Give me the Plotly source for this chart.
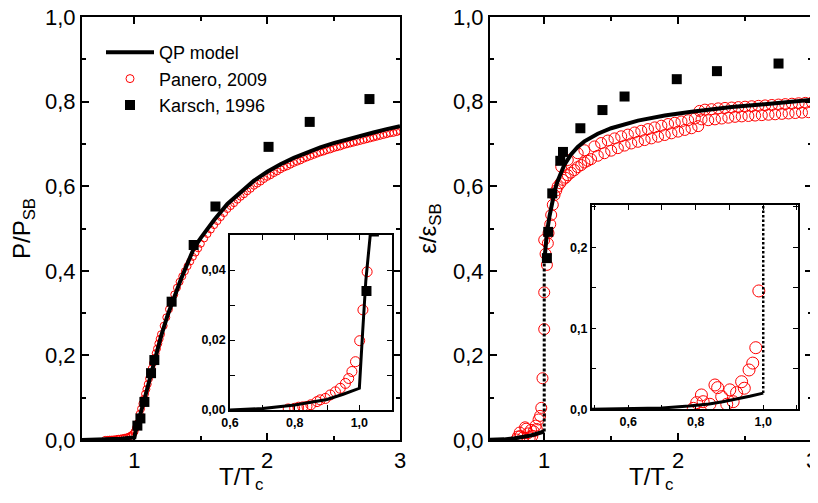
import plotly.graph_objects as go

# ---------------- data ----------------
# Left panel: pressure P/P_SB
qp_p_x = [0.6, 0.7, 0.8, 0.9, 0.95, 1.0, 1.01, 1.02, 1.04, 1.07, 1.1, 1.125, 1.15, 1.2, 1.25, 1.3,
          1.35, 1.4, 1.45, 1.5, 1.6, 1.7, 1.8, 1.9, 2.0, 2.1, 2.2, 2.3, 2.4, 2.5, 2.6, 2.7, 2.8, 2.9, 3.0]
qp_p_y = [0.0, 0.0004, 0.0014, 0.003, 0.0045, 0.0062, 0.022, 0.037, 0.056, 0.09, 0.125, 0.158, 0.19, 0.245,
          0.295, 0.34, 0.38, 0.418, 0.455, 0.478, 0.52, 0.558, 0.587, 0.613, 0.634, 0.652, 0.667, 0.68,
          0.692, 0.702, 0.711, 0.719, 0.727, 0.735, 0.742]

pan_p_x = [0.78, 0.80, 0.812, 0.825, 0.838, 0.85, 0.869, 0.879, 0.895, 0.91, 0.926, 0.941, 0.957, 0.967,
           0.977, 0.988, 1.001, 1.011, 1.024,
           1.04, 1.05, 1.06, 1.07, 1.08, 1.09, 1.10, 1.11, 1.12, 1.13, 1.14, 1.15, 1.16, 1.17, 1.18,
           1.19, 1.20, 1.22, 1.24, 1.26, 1.28, 1.30, 1.32, 1.34, 1.36, 1.38, 1.40, 1.42, 1.44, 1.46,
           1.48, 1.50, 1.525, 1.55, 1.575, 1.60, 1.625, 1.65, 1.675, 1.70, 1.725, 1.75, 1.775, 1.80,
           1.825, 1.85, 1.875, 1.90, 1.925, 1.95, 1.975, 2.00, 2.025, 2.05, 2.075, 2.10, 2.125, 2.15,
           2.175, 2.20, 2.225, 2.25, 2.275, 2.30, 2.325, 2.35, 2.375, 2.40, 2.425, 2.45, 2.475, 2.50,
           2.525, 2.55, 2.575, 2.60, 2.625, 2.65, 2.675, 2.70, 2.725, 2.75, 2.775, 2.80, 2.825, 2.85,
           2.875, 2.90, 2.925, 2.95, 2.975, 3.00]
pan_p_y = [0.0003, 0.0005, 0.0008, 0.0009, 0.001, 0.0015, 0.0024, 0.0029, 0.0033, 0.0043, 0.0052, 0.0062,
           0.0076, 0.009, 0.011, 0.0138, 0.0198, 0.0286, 0.0395,
           0.062, 0.074, 0.086, 0.097, 0.109, 0.12, 0.132, 0.145, 0.157, 0.169, 0.182, 0.194, 0.205,
           0.216, 0.228, 0.239, 0.25, 0.27, 0.29, 0.309, 0.327, 0.344, 0.36, 0.374, 0.387, 0.399, 0.411,
           0.422, 0.433, 0.443, 0.453, 0.464, 0.4765, 0.487, 0.4975, 0.508, 0.5175, 0.527, 0.5365, 0.546,
           0.553, 0.560, 0.568, 0.575, 0.581, 0.588, 0.594, 0.601, 0.606, 0.611, 0.617, 0.622, 0.626,
           0.631, 0.635, 0.640, 0.644, 0.647, 0.651, 0.655, 0.658, 0.661, 0.665, 0.668, 0.671, 0.674,
           0.677, 0.680, 0.682, 0.685, 0.687, 0.690, 0.692, 0.694, 0.697, 0.699, 0.701, 0.703, 0.705,
           0.707, 0.709, 0.711, 0.713, 0.715, 0.717, 0.719, 0.721, 0.723, 0.725, 0.726, 0.728, 0.730]

kar_p_x = [1.022, 1.045, 1.075, 1.125, 1.15, 1.28, 1.446, 1.61, 2.01, 2.32, 2.77]
kar_p_y = [0.034, 0.051, 0.09, 0.158, 0.189, 0.327, 0.461, 0.552, 0.693, 0.752, 0.806]

# Right panel: energy density eps/eps_SB
qp_e_below_x = [0.49, 0.6, 0.7, 0.78, 0.84, 0.88, 0.92, 0.96, 1.0]
qp_e_below_y = [0.0, 0.0005, 0.0015, 0.004, 0.0065, 0.0093, 0.0125, 0.016, 0.020]
qp_e_above_x = [1.0, 1.01, 1.02, 1.04, 1.06, 1.08, 1.1, 1.125, 1.15, 1.2, 1.25, 1.3, 1.4, 1.5, 1.7,
                1.9, 2.1, 2.4, 2.7, 3.0]
qp_e_above_y = [0.42, 0.455, 0.49, 0.53, 0.565, 0.592, 0.612, 0.632, 0.65, 0.675, 0.693, 0.706, 0.724,
                0.737, 0.755, 0.767, 0.776, 0.787, 0.796, 0.804]

pan_e_x = [0.793, 0.803, 0.817, 0.822, 0.842, 0.857, 0.865, 0.877, 0.892, 0.901, 0.911, 0.921, 0.936,
           0.944, 0.958, 0.969, 0.978, 0.987,
           1.0, 1.0, 1.0, 1.01, 1.02, 1.027, 1.032, 1.045, 1.052, 1.064, 1.077, 1.09, 1.1, 1.12, 1.127,
           1.139, 1.16, 1.176, 1.176, 1.2, 1.226, 1.25, 1.25, 1.276, 1.3, 1.3, 1.325,
           1.35, 1.375, 1.40, 1.425, 1.45, 1.475, 1.50, 1.525, 1.55, 1.575, 1.60, 1.625, 1.65, 1.675,
           1.70, 1.725, 1.75, 1.775, 1.80, 1.825, 1.85, 1.875, 1.90, 1.925, 1.95, 1.975, 2.00, 2.025,
           2.05, 2.075, 2.10, 2.125, 2.15,
           2.16, 2.175, 2.20, 2.225, 2.25, 2.275, 2.30, 2.325, 2.35, 2.375, 2.40, 2.425, 2.45, 2.475,
           2.50, 2.525, 2.55, 2.575, 2.60, 2.625, 2.65, 2.675, 2.70, 2.725, 2.75, 2.775, 2.80, 2.825,
           2.85, 2.875, 2.90, 2.925, 2.95, 2.975, 3.00]
pan_e_y = [0.0012, 0.0082, 0.0177, 0.0094, 0.0062, 0.030, 0.0267, 0.0156, 0.0062, 0.024, 0.0094, 0.0205,
           0.034, 0.026, 0.0485, 0.057, 0.076, 0.146,
           0.262, 0.349, 0.473, 0.44, 0.414, 0.465, 0.489, 0.51, 0.532, 0.556, 0.579, 0.59, 0.599, 0.607,
           0.646, 0.615, 0.62, 0.626, 0.662, 0.632, 0.638, 0.645, 0.678, 0.65, 0.656, 0.685, 0.66,
           0.664, 0.694, 0.672, 0.702, 0.678, 0.708, 0.684, 0.713, 0.690, 0.718, 0.696, 0.722, 0.701,
           0.727, 0.705, 0.731, 0.709, 0.735, 0.713, 0.739, 0.717, 0.743, 0.721, 0.747, 0.725, 0.750,
           0.729, 0.753, 0.733, 0.756, 0.737, 0.760, 0.742,
           0.778, 0.758, 0.781, 0.756, 0.782, 0.758, 0.784, 0.760, 0.785, 0.762, 0.786, 0.764, 0.787,
           0.765, 0.788, 0.766, 0.789, 0.767, 0.790, 0.768, 0.791, 0.769, 0.792, 0.770, 0.793, 0.771,
           0.794, 0.772, 0.795, 0.773, 0.796, 0.774, 0.797, 0.775, 0.798]

kar_e_x = [1.02, 1.03, 1.06, 1.12, 1.14, 1.27, 1.435, 1.6, 1.99, 2.29, 2.75]
kar_e_y = [0.43, 0.492, 0.583, 0.66, 0.681, 0.737, 0.78, 0.812, 0.853, 0.872, 0.89]

x_title = "T/T<sub>c</sub>"
y_title_left = "P/P<sub>SB</sub>"
y_title_right = "ε/ε<sub>SB</sub>"

# ---------------- figure ----------------
FONT = "Liberation Sans, Arial, sans-serif"
RED = "#ff0000"
fig = go.Figure()

def qp(x, y, xa, ya, w, name=None, show=False, dash="solid"):
    fig.add_trace(go.Scatter(x=x, y=y, mode="lines", xaxis=xa, yaxis=ya, name=name,
                             showlegend=show, line=dict(color="black", width=w, dash=dash)))

def pan(x, y, xa, ya, size, show=False):
    fig.add_trace(go.Scatter(x=x, y=y, mode="markers", xaxis=xa, yaxis=ya, name="Panero, 2009",
                             showlegend=show,
                             marker=dict(symbol="circle-open", size=size, color=RED,
                                         line=dict(color=RED, width=1))))

def kar(x, y, xa, ya, size, show=False):
    fig.add_trace(go.Scatter(x=x, y=y, mode="markers", xaxis=xa, yaxis=ya, name="Karsch, 1996",
                             showlegend=show,
                             marker=dict(symbol="square", size=size, color="black")))

# left main
pan(pan_p_x, pan_p_y, "x", "y", 7)
qp(qp_p_x, qp_p_y, "x", "y", 4, "QP model", True)
kar(kar_p_x, kar_p_y, "x", "y", 10)
# right main
pan(pan_e_x, pan_e_y, "x2", "y2", 11)
qp(qp_e_below_x, qp_e_below_y, "x2", "y2", 4)
qp([qp_e_below_x[-1], qp_e_above_x[0]], [qp_e_below_y[-1], qp_e_above_y[0]], "x2", "y2", 3,
   dash="3px,2px")
qp(qp_e_above_x, qp_e_above_y, "x2", "y2", 4)
kar(kar_e_x, kar_e_y, "x2", "y2", 10)
# left inset
pan(pan_p_x, pan_p_y, "x3", "y3", 10)
qp(qp_p_x, qp_p_y, "x3", "y3", 3)
kar(kar_p_x, kar_p_y, "x3", "y3", 10)
# right inset
pan(pan_e_x, pan_e_y, "x4", "y4", 12)
qp(qp_e_below_x, qp_e_below_y, "x4", "y4", 3)
qp([qp_e_below_x[-1], qp_e_above_x[0]], [qp_e_below_y[-1], qp_e_above_y[0]], "x4", "y4", 2.5,
   dash="2.5px,2px")
# legend-only entries for markers
pan([None], [None], "x", "y", 8, True)
kar([None], [None], "x", "y", 10, True)

# page has an 8px body margin: figure is placed at (8, 8) in the window
OFF = 8.0
W = 810.0
H = 495.0

def px_x(a):
    return (a - OFF) / W

def px_y(b):
    return (H - (b - OFF)) / H

def dx(a, b):
    return [px_x(a), px_x(b)]

def dy(top, bottom):
    return [px_y(bottom), px_y(top)]

def main_ax(**kw):
    d = dict(showline=True, linecolor="black", linewidth=2, mirror="ticks", ticks="inside",
             ticklen=7, tickwidth=1.5, tickcolor="black", showgrid=False, zeroline=False,
             automargin=False, ticklabeloverflow="allow",
             tickfont=dict(family=FONT, size=22, color="black"),
             minor=dict(ticks="inside", ticklen=4, tickwidth=1.5, tickcolor="black"))
    d.update(kw)
    return d

def inset_ax(**kw):
    d = dict(showline=True, linecolor="black", linewidth=1.5, mirror="ticks", ticks="inside",
             ticklen=5, tickwidth=1.3, tickcolor="black", showgrid=False, zeroline=False,
             automargin=False,
             tickfont=dict(family=FONT, size=12.5, color="black", weight="bold"),
             minor=dict(ticks="inside", ticklen=5, tickwidth=1.3, tickcolor="black"))
    d.update(kw)
    return d

title_font = dict(family=FONT, size=24, color="black")

fig.update_layout(
    width=int(W), height=int(H), margin=dict(l=0, r=0, t=0, b=0, autoexpand=False),
    paper_bgcolor="white", plot_bgcolor="white", separators=",.",
    font=dict(family=FONT, color="black"),
    xaxis=main_ax(domain=dx(82, 400), anchor="y", range=[0.605, 3.0], tick0=0, dtick=1,
                  tickformat="d", minor_dtick=0.5),
    yaxis=main_ax(domain=dy(17, 440), anchor="x", range=[0, 1.0], tick0=0,
                  dtick=0.2, tickformat=".1f", minor_dtick=0.1,
                  title=dict(text=y_title_left, font=title_font, standoff=10)),
    xaxis2=main_ax(domain=dx(490, 812), anchor="y2", range=[0.595, 3.0], tick0=0, dtick=1,
                   tickformat="d", minor_dtick=0.5),
    yaxis2=main_ax(domain=dy(17, 440), anchor="x2", range=[0, 1.0], tick0=0,
                   dtick=0.2, tickformat=".1f", minor_dtick=0.1,
                   title=dict(text=y_title_right, font=title_font, standoff=10)),
    xaxis3=inset_ax(domain=dx(230, 391.7), anchor="y3", range=[0.6, 1.1], tick0=0, dtick=0.2,
                    tickformat=".1f", minor_dtick=0.1),
    yaxis3=inset_ax(domain=dy(235, 410), anchor="x3", range=[0, 0.05], tick0=0,
                    dtick=0.02, tickformat=".2f", minor_dtick=0.01),
    xaxis4=inset_ax(domain=dx(591.7, 798), anchor="y4", range=[0.492, 1.103], tick0=0,
                    dtick=0.2, tickformat=".1f", minor_dtick=0.1),
    yaxis4=inset_ax(domain=dy(205, 409.3), anchor="x4", range=[0, 0.252], tick0=0,
                    dtick=0.1, tickformat=".1f", minor_dtick=0.05),
    legend=dict(x=px_x(101), y=px_y(34), xanchor="left", yanchor="top",
                bgcolor="rgba(0,0,0,0)",
                font=dict(family=FONT, size=18, color="black"), itemwidth=48, tracegroupgap=0),
    annotations=[
        dict(text=x_title, xref="paper", yref="paper", x=px_x(241), y=px_y(478),
             xanchor="center", yanchor="middle", showarrow=False, font=title_font),
        dict(text=x_title, xref="paper", yref="paper", x=px_x(651), y=px_y(478),
             xanchor="center", yanchor="middle", showarrow=False, font=title_font),
    ],
)

fig.write_html("out.html")
